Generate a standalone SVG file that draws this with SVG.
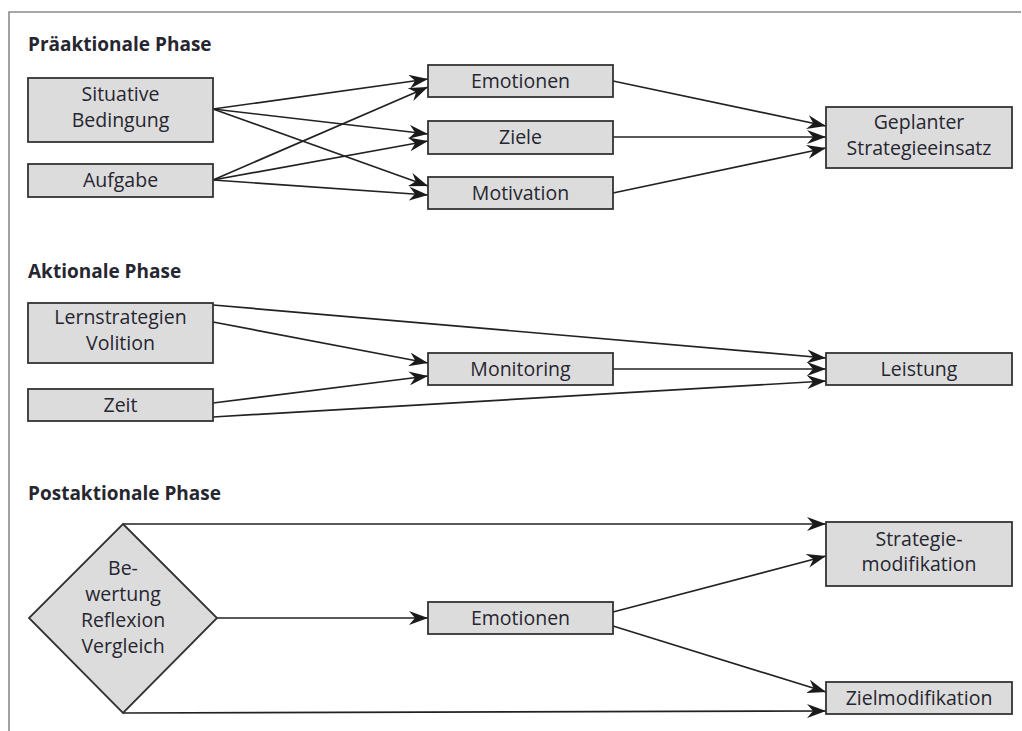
<svg xmlns="http://www.w3.org/2000/svg" width="1022" height="731" viewBox="0 0 1022 731">
<defs>
<style>
.box{fill:#dcdcdc;stroke:#333;stroke-width:1.8}
.t{font-family:"Open Sans","Liberation Sans",sans-serif;font-size:19.5px;fill:#262630;text-anchor:middle}
.h{font-family:"Open Sans","Liberation Sans",sans-serif;font-size:19px;font-weight:bold;fill:#262630}
.c{fill:none;stroke:#222;stroke-width:1.7;marker-end:url(#ah)}
.frame{fill:none;stroke:#8a8a8a;stroke-width:1.6}
</style>
<marker id="ah" markerUnits="userSpaceOnUse" markerWidth="20" markerHeight="14" refX="19" refY="7" orient="auto">
<path d="M0,0 L19,7 L0,14 L6,7 Z" fill="#1a1a1a"/>
</marker>
</defs>
<rect width="1022" height="731" fill="#fff"/>
<path class="frame" d="M9,731 L9,12 L1021,12"/>

<text class="h" x="28" y="51">Präaktionale Phase</text>
<text class="h" x="28" y="278">Aktionale Phase</text>
<text class="h" x="28" y="500">Postaktionale Phase</text>

<g id="connectors">
<line class="c" x1="213" y1="109" x2="428" y2="79"/>
<line class="c" x1="213" y1="109" x2="428" y2="134"/>
<line class="c" x1="213" y1="109" x2="428" y2="186"/>
<line class="c" x1="213" y1="180" x2="428" y2="87"/>
<line class="c" x1="213" y1="180" x2="428" y2="141"/>
<line class="c" x1="213" y1="180" x2="428" y2="195"/>
<line class="c" x1="613" y1="81" x2="826" y2="126"/>
<line class="c" x1="613" y1="137" x2="826" y2="137"/>
<line class="c" x1="613" y1="193" x2="826" y2="148"/>

<line class="c" x1="213" y1="305" x2="826" y2="358"/>
<line class="c" x1="213" y1="322" x2="428" y2="363"/>
<line class="c" x1="213" y1="403" x2="428" y2="376"/>
<line class="c" x1="213" y1="417" x2="826" y2="381"/>
<line class="c" x1="613" y1="369" x2="826" y2="369"/>

<line class="c" x1="123" y1="524" x2="826" y2="524"/>
<line class="c" x1="217" y1="618" x2="428" y2="618"/>
<line class="c" x1="613" y1="612" x2="826" y2="556"/>
<line class="c" x1="613" y1="626" x2="826" y2="692"/>
<line class="c" x1="123" y1="713" x2="826" y2="711"/>
</g>

<g id="situative">
<rect class="box" x="28" y="78" width="185" height="64"/>
<text class="t" x="120.5" y="101">Situative</text>
<text class="t" x="120.5" y="127">Bedingung</text>
</g>
<g id="aufgabe">
<rect class="box" x="28" y="164" width="185" height="33"/>
<text class="t" x="120.5" y="187">Aufgabe</text>
</g>
<g id="emotionen1">
<rect class="box" x="428" y="65" width="185" height="32"/>
<text class="t" x="520.5" y="88">Emotionen</text>
</g>
<g id="ziele">
<rect class="box" x="428" y="121" width="185" height="33"/>
<text class="t" x="520.5" y="144">Ziele</text>
</g>
<g id="motivation">
<rect class="box" x="428" y="177" width="185" height="32"/>
<text class="t" x="520.5" y="200">Motivation</text>
</g>
<g id="geplanter">
<rect class="box" x="826" y="107" width="186" height="61"/>
<text class="t" x="919" y="129">Geplanter</text>
<text class="t" x="919" y="155">Strategieeinsatz</text>
</g>

<g id="lernstrategien">
<rect class="box" x="28" y="303" width="185" height="60"/>
<text class="t" x="120.5" y="324">Lernstrategien</text>
<text class="t" x="120.5" y="350">Volition</text>
</g>
<g id="zeit">
<rect class="box" x="28" y="389" width="185" height="32"/>
<text class="t" x="120.5" y="412">Zeit</text>
</g>
<g id="monitoring">
<rect class="box" x="428" y="353" width="185" height="32"/>
<text class="t" x="520.5" y="376">Monitoring</text>
</g>
<g id="leistung">
<rect class="box" x="826" y="353" width="186" height="32"/>
<text class="t" x="919" y="376">Leistung</text>
</g>

<g id="bewertung">
<polygon class="box" points="123,524 217,618 123,713 29,618"/>
<text class="t" x="123" y="575">Be-</text>
<text class="t" x="123" y="601">wertung</text>
<text class="t" x="123" y="627">Reflexion</text>
<text class="t" x="123" y="653">Vergleich</text>
</g>
<g id="emotionen2">
<rect class="box" x="428" y="602" width="185" height="32"/>
<text class="t" x="520.5" y="625">Emotionen</text>
</g>
<g id="strategiemod">
<rect class="box" x="826" y="522" width="186" height="64"/>
<text class="t" x="919" y="546">Strategie-</text>
<text class="t" x="919" y="571">modifikation</text>
</g>
<g id="zielmod">
<rect class="box" x="826" y="682" width="186" height="32"/>
<text class="t" x="919" y="705">Zielmodifikation</text>
</g>
</svg>
